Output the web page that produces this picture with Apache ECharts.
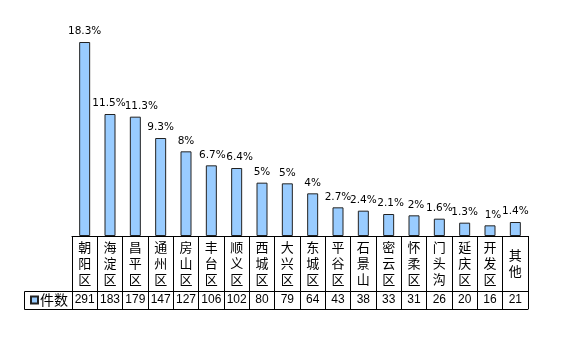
<!DOCTYPE html>
<html>
<head>
<meta charset="utf-8">
<script src="https://cdn.jsdelivr.net/npm/echarts@6/dist/echarts.min.js"></script>
<style>html,body{margin:0;padding:0;background:#fff}#c{width:579px;height:357px}</style>
</head>
<body>
<div id="c"></div>
<script>
var categories = ['朝阳区','海淀区','昌平区','通州区','房山区','丰台区','顺义区','西城区','大兴区','东城区','平谷区','石景山','密云区','怀柔区','门头沟','延庆区','开发区','其他'];
var counts = [291,183,179,147,127,106,102,80,79,64,43,38,33,31,26,20,16,21];
var percents = ['18.3%','11.5%','11.3%','9.3%','8%','6.7%','6.4%','5%','5%','4%','2.7%','2.4%','2.1%','2%','1.6%','1.3%','1%','1.4%'];
var seriesName = '件数';

// label nudges to avoid overlapping percentage labels (style only)
var labelShift = { 1: -1, 2: 6, 5: 1, 6: 3, 12: 2, 13: 2, 16: 3 };

var chart = echarts.init(document.getElementById('c'));
var cjk = '"Noto Sans CJK SC", sans-serif';
chart.setOption({
  animation: false,
  backgroundColor: '#fff',
  grid: { left: 72, right: 51, top: 36, bottom: 121 },
  legend: {
    data: [seriesName], left: 30, top: 293, padding: 0,
    itemWidth: 7, itemHeight: 7, itemGap: 0,
    textStyle: { fontSize: 14, color: '#000', fontFamily: cjk, padding: [0,0,0,-3] },
    icon: 'rect'
  },
  xAxis: [
    {
      type: 'category', data: categories, position: 'bottom',
      axisLine: { show: true, lineStyle: { color: '#000', width: 1 } },
      axisTick: { show: true, length: 73, interval: 0, lineStyle: { color: '#000' } },
      axisLabel: {
        interval: 0, margin: 27, verticalAlign: 'middle', lineHeight: 16,
        fontSize: 13, color: '#000', fontFamily: cjk,
        formatter: function (v) { return v.split('').join('\n'); }
      }
    },
    {
      type: 'category', data: counts.map(String), position: 'bottom', offset: 55,
      axisLine: { show: true, lineStyle: { color: '#000', width: 1 } },
      axisTick: { show: false },
      axisLabel: { interval: 0, margin: 9, verticalAlign: 'middle', fontSize: 12, color: '#000', fontFamily: 'Liberation Sans, sans-serif' }
    },
    {
      type: 'category', data: categories, position: 'bottom', offset: 73,
      axisLine: { show: true, lineStyle: { color: '#000', width: 1 } },
      axisTick: { show: false }, axisLabel: { show: false }
    }
  ],
  yAxis: { type: 'value', min: 0, max: 300, show: false, splitLine: { show: false } },
  series: [{
    name: seriesName, type: 'bar', barWidth: 11,
    data: counts.map(function (v, i) {
      return labelShift[i] ? { value: v, label: { offset: [labelShift[i], 0] } } : v;
    }),
    itemStyle: { color: '#99CCFF', borderColor: '#222', borderWidth: 1 },
    label: {
      show: true, position: 'top', distance: 5, color: '#000', fontSize: 10.5,
      fontFamily: 'DejaVu Sans, sans-serif',
      formatter: function (p) { return percents[p.dataIndex]; }
    }
  }],
  graphic: [{
    type: 'polyline', silent: true,
    shape: { points: [[72,291.5],[24.5,291.5],[24.5,309.5],[72,309.5]] },
    style: { stroke: '#000', lineWidth: 1, fill: null }
  }]
});
</script>
</body>
</html>
